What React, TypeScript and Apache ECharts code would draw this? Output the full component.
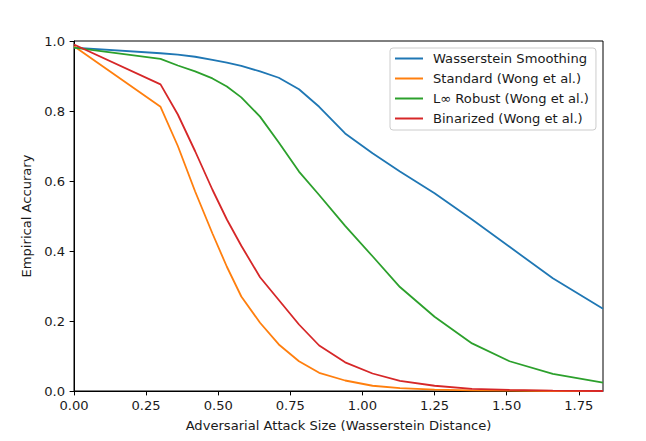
import React, { useEffect, useRef } from "react";
import * as echarts from "echarts";

const attackSizes = [0, 0.3, 0.36, 0.42, 0.48, 0.53, 0.58, 0.645, 0.71, 0.78, 0.85, 0.94, 1.035, 1.13, 1.25, 1.38, 1.51, 1.66, 1.834];
const wasserstein = [0.981, 0.965, 0.961, 0.955, 0.946, 0.938, 0.929, 0.913, 0.895, 0.862, 0.812, 0.736, 0.679, 0.627, 0.565, 0.49, 0.412, 0.322, 0.235];
const standard = [0.985, 0.812, 0.7, 0.57, 0.45, 0.355, 0.27, 0.195, 0.133, 0.085, 0.052, 0.03, 0.015, 0.008, 0.004, 0.002, 0.001, 0.0, 0.0];
const linfRobust = [0.981, 0.949, 0.93, 0.913, 0.893, 0.87, 0.839, 0.784, 0.71, 0.627, 0.56, 0.472, 0.385, 0.297, 0.212, 0.136, 0.085, 0.049, 0.024];
const binarized = [0.99, 0.876, 0.79, 0.685, 0.575, 0.49, 0.415, 0.325, 0.26, 0.19, 0.13, 0.082, 0.05, 0.029, 0.015, 0.006, 0.003, 0.001, 0.0];

const seriesNames = [
  "Wasserstein Smoothing",
  "Standard (Wong et al.)",
  "L\u221e Robust (Wong et al.)",
  "Binarized (Wong et al.)",
];
const seriesValues = [wasserstein, standard, linfRobust, binarized];
const colors = ["#1f77b4", "#ff7f0e", "#2ca02c", "#d62728"];

const FONT = "DejaVu Sans";
const FS = 13.1;
const TXT = "#1a1a1a";

export default function App() {
  const ref = useRef<HTMLDivElement>(null);
  useEffect(() => {
    document.body.style.margin = "0";
    if (!ref.current) return;
    const chart = echarts.init(ref.current, null, { renderer: "svg" });
    chart.setOption({
      animation: false,
      backgroundColor: "#ffffff",
      textStyle: { fontFamily: FONT },
      grid: {
        left: 74,
        right: 43,
        top: 41,
        bottom: 50,
        show: true,
        borderColor: "#000",
        borderWidth: 1,
        backgroundColor: "transparent",
      },
      legend: {
        left: 390,
        top: 48,
        orient: "vertical",
        icon: "rect",
        itemWidth: 28,
        itemHeight: 2,
        itemGap: 5,
        padding: [3, 7, 4, 5],
        backgroundColor: "rgba(255,255,255,0.8)",
        borderColor: "#cccccc",
        borderWidth: 1,
        borderRadius: 3,
        textStyle: {
          fontFamily: FONT,
          fontSize: FS,
          color: TXT,
          lineHeight: 15,
          padding: [0, 0, 0, 5],
        },
        data: seriesNames,
      },
      xAxis: {
        type: "value",
        min: 0,
        max: 1.834,
        interval: 0.25,
        name: "Adversarial Attack Size (Wasserstein Distance)",
        nameLocation: "middle",
        nameGap: 28,
        nameTextStyle: { fontFamily: FONT, fontSize: FS, color: TXT },
        axisLine: { show: true, lineStyle: { color: "#000", width: 1 } },
        axisTick: { show: true, length: 4.4, lineStyle: { color: "#000", width: 1 } },
        axisLabel: {
          fontFamily: FONT,
          fontSize: FS,
          color: TXT,
          margin: 8,
          showMaxLabel: false,
          formatter: (v: number) => v.toFixed(2),
        },
        splitLine: { show: false },
      },
      yAxis: {
        type: "value",
        min: 0,
        max: 1,
        interval: 0.2,
        name: "Empirical Accurary",
        nameLocation: "middle",
        nameGap: 33,
        nameTextStyle: { fontFamily: FONT, fontSize: FS, color: TXT },
        axisLine: { show: true, lineStyle: { color: "#000", width: 1 } },
        axisTick: { show: true, length: 4.4, lineStyle: { color: "#000", width: 1 } },
        axisLabel: {
          fontFamily: FONT,
          fontSize: FS,
          color: TXT,
          margin: 9,
          formatter: (v: number) => v.toFixed(1),
        },
        splitLine: { show: false },
      },
      series: seriesNames.map((name, i) => ({
        name,
        type: "line",
        data: attackSizes.map((x, j) => [x, seriesValues[i][j]]),
        showSymbol: false,
        symbol: "none",
        lineStyle: { color: colors[i], width: 1.8 },
        itemStyle: { color: colors[i] },
        clip: true,
      })),
    });
    return () => chart.dispose();
  }, []);
  return <div ref={ref} style={{ width: 646, height: 441 }} />;
}
